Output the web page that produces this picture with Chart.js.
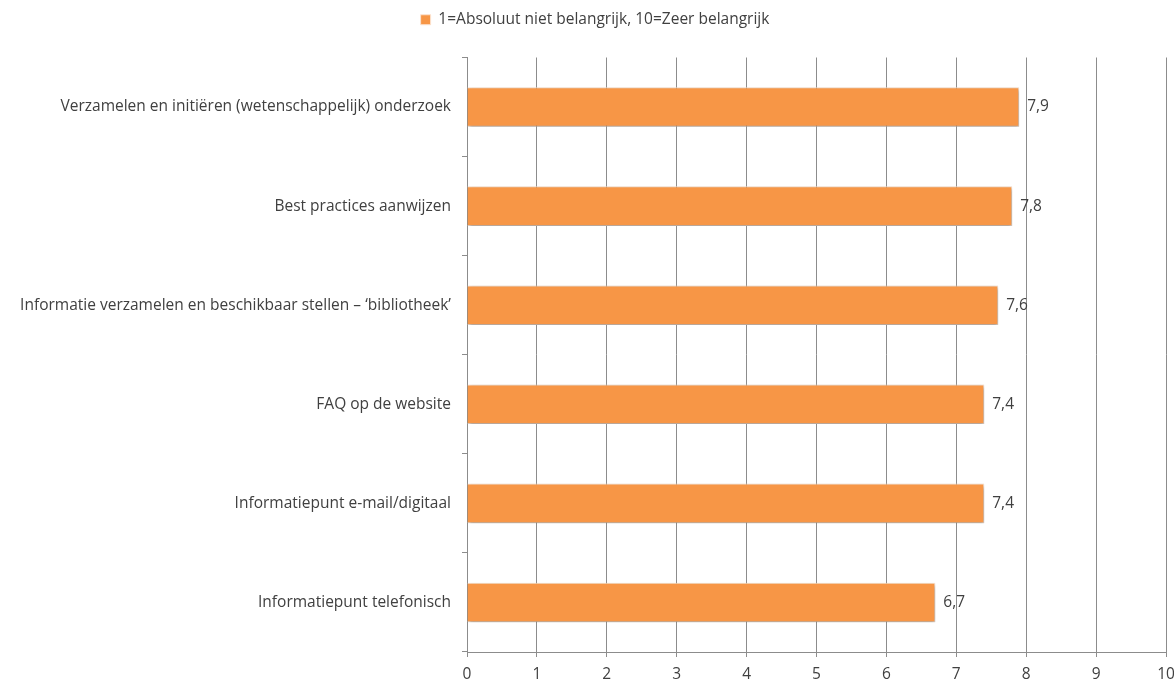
<!DOCTYPE html>
<html>
<head>
<meta charset="utf-8">
<script src="https://cdn.jsdelivr.net/npm/chart.js@4/dist/chart.umd.min.js"></script>
<style>
html,body{margin:0;padding:0;background:#fff;}
#wrap{width:1174px;height:682px;}
</style>
</head>
<body>
<div id="wrap"><canvas id="c" width="1174" height="682"></canvas></div>
<script>
const categories = [
  "Verzamelen en initiëren (wetenschappelijk) onderzoek",
  "Best practices aanwijzen",
  "Informatie verzamelen en beschikbaar stellen – ‘bibliotheek’",
  "FAQ op de website",
  "Informatiepunt e-mail/digitaal",
  "Informatiepunt telefonisch"
];
const values = [7.9, 7.8, 7.6, 7.4, 7.4, 6.7];
const seriesLabel = "1=Absoluut niet belangrijk, 10=Zeer belangrijk";
const xTicks = [0,1,2,3,4,5,6,7,8,9,10];

const FONT = "'Open Sans', 'Liberation Sans', sans-serif";
const FS = 15.5;
const TEXT = '#404040';
const GRID = '#8c8c8c';

const valueLabels = {
  id: 'valueLabels',
  afterDatasetsDraw(chart) {
    const ctx = chart.ctx;
    const meta = chart.getDatasetMeta(0);
    ctx.save();
    ctx.font = FS + 'px ' + FONT;
    ctx.fillStyle = TEXT;
    ctx.textAlign = 'left';
    ctx.textBaseline = 'middle';
    meta.data.forEach((bar, i) => {
      const v = chart.data.datasets[0].data[i];
      ctx.fillText(String(v).replace('.', ','), bar.x + 8, bar.y);
    });
    ctx.restore();
  }
};

const barShadow = {
  id: 'barShadow',
  beforeDatasetDraw(chart) {
    const ctx = chart.ctx;
    ctx.save();
    ctx.shadowColor = 'rgba(0,0,0,0.35)';
    ctx.shadowBlur = 4;
    ctx.shadowOffsetX = 1;
    ctx.shadowOffsetY = 2;
  },
  afterDatasetDraw(chart) {
    chart.ctx.restore();
  }
};

const legendSpace = {
  id: 'legendSpace',
  beforeLayout(chart) {
    const lg = chart.legend;
    if (lg && !lg._patched) {
      const f = lg.fit.bind(lg);
      lg.fit = function () { f(); this.height += 20; };
      lg._patched = true;
    }
  },
  afterLayout(chart) {
    if (chart.legend) { chart.legend.left += 24; }
  }
};

new Chart(document.getElementById('c'), {
  type: 'bar',
  data: {
    labels: categories,
    datasets: [{
      label: seriesLabel,
      data: values,
      backgroundColor: '#F79646',
      borderColor: '#FCE3D0',
      borderWidth: 1,
      barPercentage: 0.8,
      categoryPercentage: 0.5
    }]
  },
  options: {
    indexAxis: 'y',
    responsive: false,
    animation: false,
    devicePixelRatio: 1,
    layout: { padding: { left: 0, right: 8, top: 0, bottom: 0 } },
    plugins: {
      legend: {
        display: true,
        position: 'top',
        labels: {
          font: { family: FONT, size: FS },
          color: TEXT,
          boxWidth: 10,
          boxHeight: 10,
          padding: 12
        }
      },
      tooltip: { enabled: false }
    },
    scales: {
      x: {
        min: 0,
        max: 10,
        afterBuildTicks(scale) { scale.ticks = xTicks.map(v => ({ value: v })); },
        ticks: { font: { family: FONT, size: FS }, color: TEXT, padding: 8 },
        grid: { color: GRID, lineWidth: 1, drawTicks: true, tickLength: 5, tickColor: GRID },
        border: { color: GRID, width: 1 },
        afterFit(scale) { scale.height = 30; scale.paddingRight = 0; scale.paddingLeft = 0; }
      },
      y: {
        ticks: { font: { family: FONT, size: FS }, color: TEXT, padding: 11 },
        grid: { offset: true, drawOnChartArea: false, drawTicks: true, tickLength: 5, tickColor: GRID },
        border: { color: GRID, width: 1 },
        afterFit(scale) { scale.width = 467; scale.paddingTop = 0; scale.paddingBottom = 0; }
      }
    }
  },
  plugins: [legendSpace, barShadow, valueLabels]
});
</script>
</body>
</html>
